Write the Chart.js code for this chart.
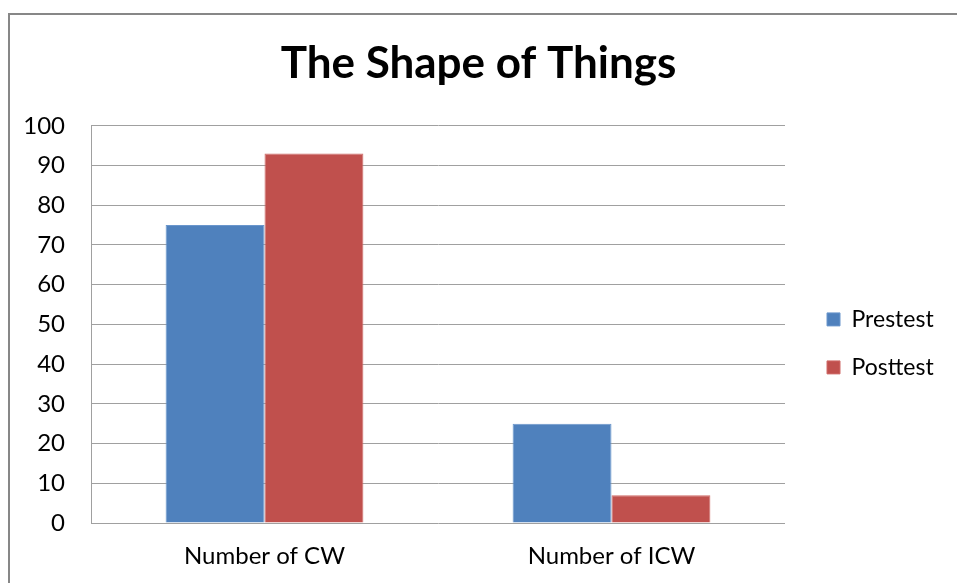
<!DOCTYPE html>
<html>
<head>
<meta charset="utf-8">
<script src="https://cdn.jsdelivr.net/npm/chart.js@4/dist/chart.umd.min.js"></script>
<style>
    html, body { margin: 0; padding: 0; background: #fff; overflow: hidden; }
    #frame { position: absolute; left: 8px; top: 13px; width: 1000px; height: 620px; border: 2px solid #878787; }
    #wrap { position: absolute; left: 0; top: 0; width: 957px; height: 583px; }
</style>
</head>
<body>
<div id="frame"></div>
<div id="wrap"><canvas id="shapeChart"></canvas></div>
<script>
const categories = ['Number of CW', 'Number of ICW'];
const seriesNames = ['Prestest', 'Posttest'];
const prestest = [75, 25];
const posttest = [93, 7];
const yMin = 0, yMax = 100, yStep = 10;

const FONT = 'Lato, "Liberation Sans", sans-serif';

// fixed legend column, then slide it right/down a little
const legendNudge = {
    id: 'legendNudge',
    beforeUpdate(chart) {
        const lg = chart.legend;
        if (lg && !lg._fixedFit) {
            const origFit = lg.fit;
            lg.fit = function () { origFit.call(this); this.width = 172; };
            lg._fixedFit = true;
        }
    },
    afterLayout(chart) {
        const lg = chart.legend;
        if (!lg) return;
        lg.left += 17;
        lg.right += 17;
        lg.top += 19;
        lg.bottom += 19;
    }
};

const ctx = document.getElementById('shapeChart').getContext('2d');
new Chart(ctx, {
    type: 'bar',
    data: {
        labels: categories,
        datasets: [
            { label: seriesNames[0], data: prestest, backgroundColor: '#4F81BD', borderColor: '#6a96cc', borderWidth: 1 },
            { label: seriesNames[1], data: posttest, backgroundColor: '#C0504D', borderColor: '#d06b68', borderWidth: 1 }
        ]
    },
    options: {
        responsive: true,
        maintainAspectRatio: false,
        animation: false,
        layout: { padding: 0 },
        datasets: { bar: { categoryPercentage: 0.57, barPercentage: 1.0 } },
        scales: {
            x: {
                grid: { display: false, drawTicks: false },
                border: { display: false },
                ticks: { color: '#000', font: { family: FONT, size: 24 }, padding: 19 },
                afterFit(scale) { scale.height = 60; }
            },
            y: {
                min: yMin,
                max: yMax,
                grid: { color: '#a0a0a0', drawTicks: false },
                border: { display: true, color: '#a0a0a0' },
                ticks: { stepSize: yStep, color: '#000', font: { family: FONT, size: 24 }, padding: 26 },
                afterFit(scale) { scale.width = 91; }
            }
        },
        plugins: {
            title: {
                display: true,
                text: 'The Shape of Things',
                color: '#000',
                font: { family: FONT, size: 44, weight: 'bold' },
                padding: { top: 37, bottom: 36 }
            },
            legend: {
                position: 'right',
                fullSize: false,
                labels: {
                    boxWidth: 13,
                    boxHeight: 13,
                    padding: 25,
                    color: '#000',
                    font: { family: FONT, size: 23 }
                }
            },
            tooltip: { enabled: false }
        }
    },
    plugins: [legendNudge]
});
</script>
</body>
</html>
